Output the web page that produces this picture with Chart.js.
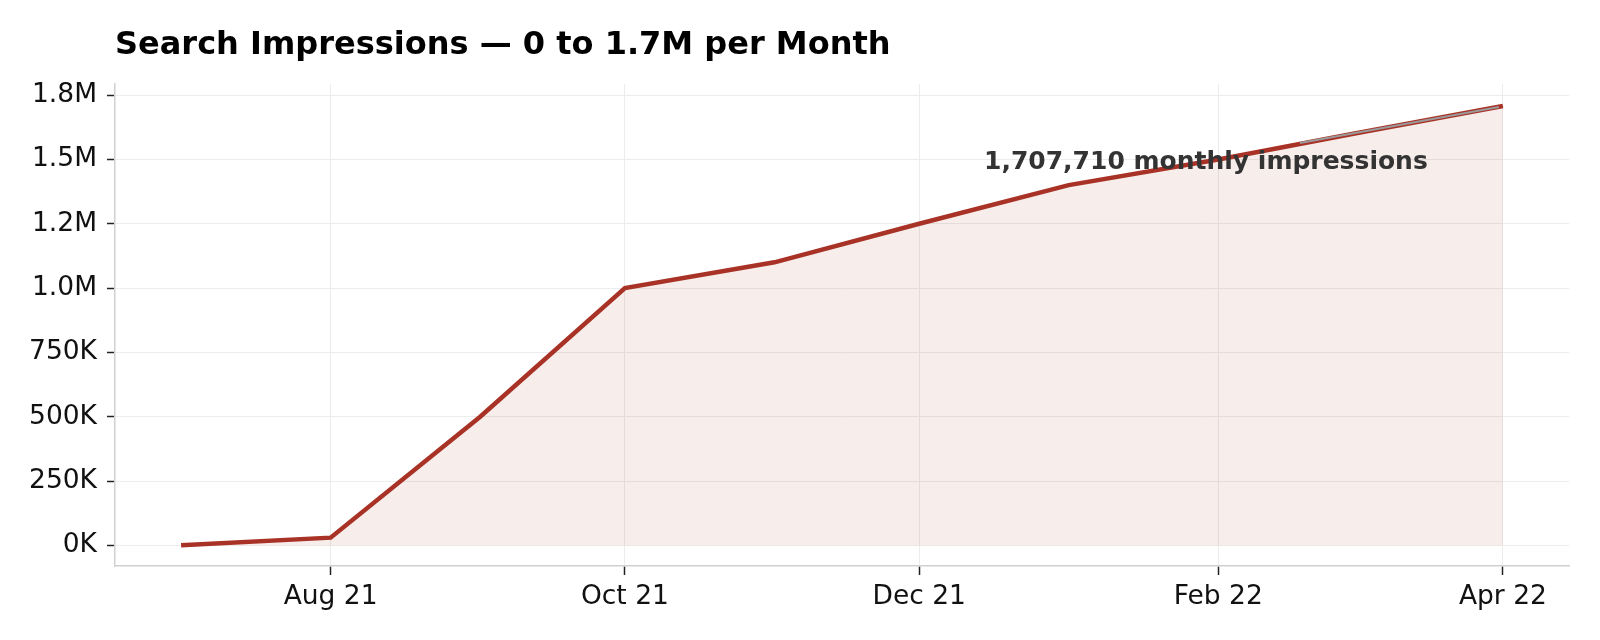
<!DOCTYPE html>
<html>
<head>
<meta charset="utf-8">
<script src="https://cdn.jsdelivr.net/npm/chart.js@4.4.1/dist/chart.umd.min.js"></script>
<style>
html,body{margin:0;padding:0;background:#fff;}
#wrap{width:1600px;height:640px;}
</style>
</head>
<body>
<div id="wrap"><canvas id="c" width="1600" height="640"></canvas></div>
<script>
// ---- data ----
const months = ['2021-07-01','2021-08-01','2021-09-01','2021-10-01','2021-11-01','2021-12-01','2022-01-01','2022-02-01','2022-03-01','2022-04-01'];
const impressions = [0, 30000, 500000, 1000000, 1100000, 1250000, 1400000, 1500000, 1600000, 1707710];
const xTickDates = ['2021-08-01','2021-10-01','2021-12-01','2022-02-01','2022-04-01'];
const xTickLabels = ['Aug 21','Oct 21','Dec 21','Feb 22','Apr 22'];
const yTickValues = [0, 250000, 500000, 750000, 1000000, 1250000, 1500000, 1750000];
const yTickLabels = ['0K','250K','500K','750K','1.0M','1.2M','1.5M','1.8M'];
const titleText = 'Search Impressions \u2014 0 to 1.7M per Month';
const annotationText = '1,707,710 monthly impressions';

const ts = s => Date.parse(s + 'T00:00:00Z');
const points = months.map((m, i) => ({x: ts(m), y: impressions[i]}));
const xs = points.map(p => p.x), ys = points.map(p => p.y);
const xSpan = Math.max(...xs) - Math.min(...xs);
const ySpan = Math.max(...ys) - Math.min(...ys);
const xMin = Math.min(...xs) - 0.05 * xSpan, xMax = Math.max(...xs) + 0.05 * xSpan;
const yMin = Math.min(...ys) - 0.047 * ySpan, yMax = Math.max(...ys) + 0.05 * ySpan;
const xTickVals = xTickDates.map(ts);

const FONT = "'DejaVu Sans', sans-serif";
const LINE = '#a93226';

const bgPlugin = {
  id: 'bg',
  beforeDraw(chart) {
    const ctx = chart.ctx;
    ctx.save();
    ctx.fillStyle = '#ffffff';
    ctx.fillRect(0, 0, chart.width, chart.height);
    ctx.restore();
  }
};

const textPlugin = {
  id: 'texts',
  afterDraw(chart) {
    const ctx = chart.ctx;
    const ca = chart.chartArea;
    ctx.save();
    ctx.fillStyle = '#000';
    ctx.font = 'bold 32px ' + FONT;
    ctx.textAlign = 'left';
    ctx.textBaseline = 'alphabetic';
    ctx.fillText(titleText, ca.left, 54);

    // annotation tied to the last point
    const xs_ = chart.scales.x, ys_ = chart.scales.y;
    const last = points[points.length - 1];
    const px = xs_.getPixelForValue(last.x), py = ys_.getPixelForValue(last.y);
    ctx.strokeStyle = '#9a9a9a';
    ctx.lineWidth = 2;
    ctx.beginPath();
    ctx.moveTo(px - 203, py + 37);
    ctx.lineTo(px - 4, py + 1);
    ctx.stroke();
    ctx.fillStyle = '#333333';
    ctx.font = 'bold 25px ' + FONT;
    ctx.textAlign = 'center';
    ctx.textBaseline = 'middle';
    ctx.fillText(annotationText, px - 297, py + 57);
    ctx.restore();
  }
};

new Chart(document.getElementById('c'), {
  type: 'line',
  data: {
    datasets: [{
      data: points,
      borderColor: LINE,
      borderWidth: 4.5,
      backgroundColor: 'rgba(169,50,38,0.09)',
      fill: 'origin',
      pointRadius: 0,
      tension: 0,
      borderJoinStyle: 'miter',
      borderCapStyle: 'butt'
    }]
  },
  options: {
    responsive: false,
    animation: false,
    events: [],
    layout: {padding: {top: 84, right: 31, left: 0, bottom: 0}},
    plugins: {legend: {display: false}, tooltip: {enabled: false}, title: {display: false}},
    scales: {
      x: {
        type: 'linear',
        min: xMin, max: xMax,
        afterBuildTicks(scale) { scale.ticks = xTickVals.map(v => ({value: v})); },
        afterFit(scale) { scale.height = 74; },
        ticks: {
          autoSkip: false, maxRotation: 0, padding: 6,
          color: '#111', font: {family: FONT, size: 26.5},
          callback(v) { const i = xTickVals.indexOf(v); return i >= 0 ? xTickLabels[i] : ''; }
        },
        grid: {color: '#ececec', lineWidth: 1, drawTicks: true, tickLength: 9, tickColor: '#222', tickWidth: 1.5},
        border: {color: '#d0d0d0', width: 1.5}
      },
      y: {
        type: 'linear',
        min: yMin, max: yMax,
        afterBuildTicks(scale) { scale.ticks = yTickValues.map(v => ({value: v})); },
        afterFit(scale) { scale.width = 115; },
        ticks: {
          autoSkip: false, padding: 10,
          color: '#111', font: {family: FONT, size: 26.5},
          callback(v) { const i = yTickValues.indexOf(v); return i >= 0 ? yTickLabels[i] : ''; }
        },
        grid: {color: '#ececec', lineWidth: 1, drawTicks: true, tickLength: 8, tickColor: '#222', tickWidth: 1.5},
        border: {color: '#d0d0d0', width: 1.5}
      }
    }
  },
  plugins: [bgPlugin, textPlugin]
});
</script>
</body>
</html>
